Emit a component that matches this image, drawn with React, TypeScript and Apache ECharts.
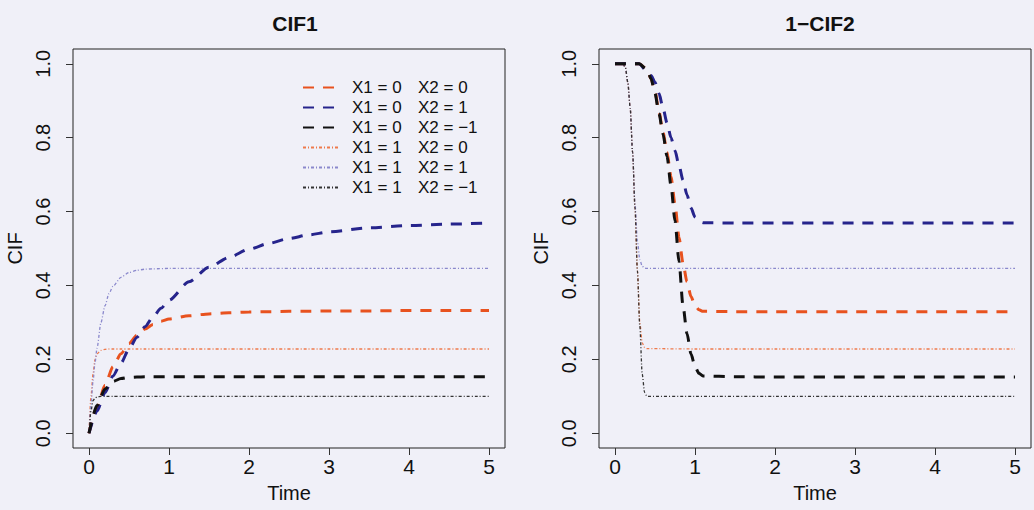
import { useEffect, useRef } from "react";
import * as echarts from "echarts";

// ---------- data ----------
const legendX1 = ["X1 = 0", "X1 = 0", "X1 = 0", "X1 = 1", "X1 = 1", "X1 = 1"];
const legendX2 = ["X2 = 0", "X2 = 1", "X2 = \u22121", "X2 = 0", "X2 = 1", "X2 = \u22121"];
const xTicks = [0, 1, 2, 3, 4, 5];
const yTicks = [0, 0.2, 0.4, 0.6, 0.8, 1.0];
const panelTitles = ["CIF1", "1\u2212CIF2"];

// CIF1, X1 = 0 (dashed)
const cif1TimesA = [0, 0.1, 0.2, 0.3, 0.4, 0.5, 0.6, 0.7, 0.8, 0.9, 1.0, 1.25, 1.5, 1.75, 2.0, 2.25, 2.5, 2.75, 3.0, 3.5, 4.0, 4.5, 5.0];
const cif1_X10_X20 = [0, 0.07, 0.13, 0.18, 0.215, 0.243, 0.265, 0.282, 0.294, 0.303, 0.309, 0.318, 0.323, 0.326, 0.328, 0.329, 0.33, 0.33, 0.331, 0.331, 0.332, 0.332, 0.332];
const cif1_X10_X21 = [0, 0.06, 0.11, 0.155, 0.19, 0.228, 0.26, 0.288, 0.315, 0.338, 0.36, 0.41, 0.449, 0.476, 0.498, 0.514, 0.527, 0.537, 0.545, 0.556, 0.562, 0.566, 0.569];
const cif1_X10_X2m1 = [0, 0.075, 0.12, 0.14, 0.148, 0.151, 0.152, 0.153, 0.153, 0.153, 0.153, 0.153, 0.153, 0.153, 0.153, 0.153, 0.153, 0.153, 0.153, 0.153, 0.153, 0.153, 0.153];

// CIF1, X1 = 1 (dotted)
const cif1TimesB = [0, 0.025, 0.05, 0.075, 0.1, 0.15, 0.2, 0.25, 0.3, 0.4, 0.5, 0.6, 0.7, 0.8, 1.0, 2.0, 3.0, 4.0, 5.0];
const cif1_X11_X20 = [0, 0.1, 0.16, 0.2, 0.215, 0.224, 0.227, 0.228, 0.228, 0.228, 0.228, 0.228, 0.228, 0.228, 0.228, 0.228, 0.228, 0.228, 0.228];
const cif1_X11_X21 = [0, 0.075, 0.14, 0.19, 0.23, 0.3, 0.345, 0.378, 0.398, 0.422, 0.435, 0.441, 0.444, 0.445, 0.446, 0.446, 0.446, 0.446, 0.446];
const cif1_X11_X2m1 = [0, 0.06, 0.088, 0.095, 0.098, 0.1, 0.1, 0.1, 0.1, 0.1, 0.1, 0.1, 0.1, 0.1, 0.1, 0.1, 0.1, 0.1, 0.1];

// 1-CIF2, X1 = 0 (dashed)
const cif2TimesA = [0, 0.1, 0.2, 0.3, 0.4, 0.45, 0.5, 0.55, 0.6, 0.65, 0.7, 0.75, 0.8, 0.85, 0.9, 0.95, 1.0, 1.05, 1.1, 1.5, 2, 3, 4, 5];
const cif2_X10_X20 = [1, 1, 1, 1, 0.985, 0.96, 0.925, 0.87, 0.815, 0.76, 0.695, 0.62, 0.53, 0.46, 0.41, 0.37, 0.345, 0.334, 0.33, 0.329, 0.329, 0.329, 0.329, 0.329];
const cif2_X10_X21 = [1, 1, 1, 1, 0.98, 0.968, 0.95, 0.92, 0.88, 0.84, 0.8, 0.765, 0.725, 0.685, 0.645, 0.61, 0.585, 0.574, 0.57, 0.569, 0.569, 0.569, 0.569, 0.569];
const cif2_X10_X2m1 = [1, 1, 1, 1, 0.985, 0.96, 0.92, 0.865, 0.81, 0.75, 0.67, 0.575, 0.465, 0.345, 0.27, 0.215, 0.18, 0.162, 0.155, 0.153, 0.152, 0.152, 0.152, 0.152];

// 1-CIF2, X1 = 1 (dotted)
const cif2TimesB = [0, 0.1, 0.13, 0.16, 0.19, 0.22, 0.25, 0.28, 0.31, 0.34, 0.37, 0.4, 1, 2, 3, 4, 5];
const cif2_X11_X20 = [1, 1, 0.99, 0.95, 0.88, 0.76, 0.61, 0.44, 0.3, 0.245, 0.232, 0.229, 0.228, 0.228, 0.228, 0.228, 0.228];
const cif2_X11_X21 = [1, 1, 0.99, 0.95, 0.88, 0.76, 0.62, 0.52, 0.47, 0.452, 0.447, 0.446, 0.446, 0.446, 0.446, 0.446, 0.446];
const cif2_X11_X2m1 = [1, 1, 0.99, 0.95, 0.88, 0.76, 0.61, 0.44, 0.29, 0.16, 0.11, 0.1, 0.1, 0.1, 0.1, 0.1, 0.1];

// ---------- styles ----------
const FONT = "Liberation Sans, Arial, Helvetica, sans-serif";
const colors = ["#e8521f", "#26248c", "#111111", "#ee7a4c", "#8a88cc", "#333333"];
const dashed = [11, 9];
const dotdash = [3, 2, 1, 2];

const names = legendX1.map((a, i) => `${a}|${legendX2[i]}`);

function pairs(t: number[], v: number[]) {
  return t.map((x, i) => [x, v[i]]);
}

function mk(idx: number, grid: number, t: number[], v: number[]) {
  const isDash = idx < 3;
  return {
    type: "line",
    name: names[idx],
    xAxisIndex: grid,
    yAxisIndex: grid,
    data: pairs(t, v),
    symbol: "none",
    smooth: 0.25,
    smoothMonotone: "x",
    z: isDash ? 3 : 2,
    lineStyle: {
      color: colors[idx],
      width: isDash ? 3 : 1.3,
      type: isDash ? dashed : dotdash,
    },
    itemStyle: { color: colors[idx] },
  };
}

function axisPair(grid: number) {
  const x = {
    type: "value",
    gridIndex: grid,
    min: -0.2,
    max: 5.2,
    name: "Time",
    nameLocation: "middle",
    nameGap: 35,
    nameTextStyle: { fontFamily: FONT, fontSize: 20, color: "#111" },
    axisLine: { show: false, onZero: false },
    splitLine: { show: false },
    axisTick: { show: true, length: 7, inside: false, customValues: xTicks, lineStyle: { color: "#333" } },
    axisLabel: { customValues: xTicks, margin: 8, fontFamily: FONT, fontSize: 21, color: "#111" },
  };
  const y = {
    type: "value",
    gridIndex: grid,
    min: -0.04,
    max: 1.04,
    name: "CIF",
    nameLocation: "middle",
    nameGap: 48,
    nameTextStyle: { fontFamily: FONT, fontSize: 20, color: "#111" },
    axisLine: { show: false, onZero: false },
    splitLine: { show: false },
    axisTick: { show: true, length: 7, inside: false, customValues: yTicks, lineStyle: { color: "#333" } },
    axisLabel: {
      customValues: yTicks,
      rotate: 90,
      margin: 20,
      fontFamily: FONT,
      fontSize: 20,
      color: "#111",
      formatter: (v: number) => v.toFixed(1),
    },
  };
  return { x, y };
}

export default function App() {
  const ref = useRef<HTMLDivElement>(null);
  useEffect(() => {
    document.body.style.margin = "0";
    const chart = echarts.init(ref.current!, null, { renderer: "svg" });
    const a0 = axisPair(0);
    const a1 = axisPair(1);
    chart.setOption({
      animation: false,
      backgroundColor: "#f0f0f8",
      title: [
        { text: panelTitles[0], left: 290, top: 8, textAlign: "center", textStyle: { fontFamily: FONT, fontSize: 21, fontWeight: "bold", color: "#111" } },
        { text: panelTitles[1], left: 815, top: 8, textAlign: "center", textStyle: { fontFamily: FONT, fontSize: 21, fontWeight: "bold", color: "#111" } },
      ],
      grid: [
        { left: 73, top: 49, width: 432, height: 399, show: true, borderColor: "#222", borderWidth: 1, backgroundColor: "transparent" },
        { left: 599, top: 49, width: 432, height: 399, show: true, borderColor: "#222", borderWidth: 1, backgroundColor: "transparent" },
      ],
      xAxis: [a0.x, a1.x],
      yAxis: [a0.y, a1.y],
      legend: {
        orient: "vertical",
        left: 302,
        top: 79,
        padding: 0,
        itemWidth: 35,
        itemHeight: 14,
        itemGap: 3,
        data: names,
        selectedMode: false,
        itemStyle: { opacity: 0, borderWidth: 0 },
        formatter: (n: string) => {
          const [p, q] = n.split("|");
          return `{g|}{a|${p}}{b|${q}}`;
        },
        textStyle: {
          rich: {
            g: { width: 9 },
            a: { width: 66, fontFamily: FONT, fontSize: 17, lineHeight: 14, color: "#111" },
            b: { fontFamily: FONT, fontSize: 17, lineHeight: 14, color: "#111" },
          },
        },
      },
      series: [
        mk(0, 0, cif1TimesA, cif1_X10_X20),
        mk(1, 0, cif1TimesA, cif1_X10_X21),
        mk(2, 0, cif1TimesA, cif1_X10_X2m1),
        mk(3, 0, cif1TimesB, cif1_X11_X20),
        mk(4, 0, cif1TimesB, cif1_X11_X21),
        mk(5, 0, cif1TimesB, cif1_X11_X2m1),
        mk(0, 1, cif2TimesA, cif2_X10_X20),
        mk(1, 1, cif2TimesA, cif2_X10_X21),
        mk(2, 1, cif2TimesA, cif2_X10_X2m1),
        mk(3, 1, cif2TimesB, cif2_X11_X20),
        mk(4, 1, cif2TimesB, cif2_X11_X21),
        mk(5, 1, cif2TimesB, cif2_X11_X2m1),
      ],
    });
    return () => chart.dispose();
  }, []);
  return <div ref={ref} style={{ width: 1034, height: 510 }} />;
}
